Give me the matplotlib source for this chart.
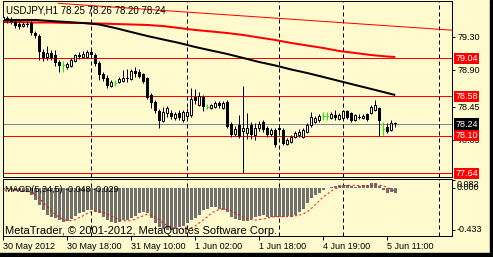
import matplotlib
matplotlib.use('Agg')
import matplotlib.pyplot as plt
from matplotlib.patches import Rectangle
from matplotlib.transforms import blended_transform_factory
import numpy as np

plt.rcParams['font.family'] = ['Liberation Sans', 'DejaVu Sans']

W, H = 493, 257
BG = '#FFFACD'

# ---------------- data (USDJPY H1) ----------------
opens = [79.51, 79.53, 79.52, 79.48, 79.46, 79.43, 79.46, 79.47, 79.35, 79.31,
         79.12, 79.06, 79.10, 79.08, 79.00, 78.96, 78.93, 78.95, 79.01, 79.08,
         79.06, 79.06, 79.12, 79.08, 78.98, 78.85, 78.80, 78.70, 78.74, 78.75,
         78.76, 78.80, 78.79, 78.89, 78.87, 78.85, 78.80, 78.59, 78.51, 78.40,
         78.28, 78.37, 78.37, 78.31, 78.37, 78.29, 78.34, 78.35, 78.57, 78.47,
         78.57, 78.45, 78.44, 78.45, 78.50, 78.44, 78.51, 78.24, 78.12, 78.23,
         78.16, 78.13, 78.23, 78.11, 78.19, 78.26, 78.19, 78.12, 78.17, 78.19,
         78.17, 78.00, 78.02, 78.08, 78.11, 78.08, 78.14, 78.23, 78.26, 78.29,
         78.34, 78.34, 78.31, 78.35, 78.30, 78.31, 78.40, 78.37, 78.29, 78.33,
         78.31, 78.36, 78.37, 78.41, 78.43, 78.18, 78.20, 78.17, 78.25]
highs = [79.58, 79.56, 79.54, 79.51, 79.49, 79.48, 79.49, 79.49, 79.37, 79.34,
         79.15, 79.19, 79.14, 79.14, 79.02, 79.01, 79.00, 79.04, 79.09, 79.12,
         79.13, 79.14, 79.15, 79.10, 79.01, 78.87, 78.84, 78.78, 78.78, 78.81,
         78.90, 78.91, 78.91, 78.93, 78.91, 78.86, 78.81, 78.62, 78.53, 78.42,
         78.45, 78.46, 78.41, 78.39, 78.41, 78.41, 78.44, 78.68, 78.67, 78.63,
         78.59, 78.48, 78.48, 78.52, 78.52, 78.52, 78.53, 78.26, 78.22, 78.35,
         78.70, 78.37, 78.26, 78.25, 78.28, 78.29, 78.22, 78.19, 78.19, 78.22,
         78.19, 78.07, 78.11, 78.16, 78.18, 78.19, 78.25, 78.39, 78.34, 78.36,
         78.39, 78.39, 78.39, 78.41, 78.37, 78.41, 78.41, 78.39, 78.36, 78.36,
         78.36, 78.37, 78.47, 78.53, 78.45, 78.26, 78.25, 78.29, 78.26]
lows = [79.48, 79.47, 79.46, 79.41, 79.40, 79.42, 79.42, 79.32, 79.29, 79.02,
        79.01, 79.02, 79.02, 78.95, 78.87, 78.87, 78.91, 78.93, 79.00, 79.03,
        79.04, 79.04, 79.06, 78.95, 78.78, 78.76, 78.68, 78.69, 78.70, 78.74,
        78.75, 78.75, 78.78, 78.81, 78.80, 78.74, 78.54, 78.44, 78.37, 78.19,
        78.26, 78.33, 78.30, 78.29, 78.29, 78.26, 78.31, 78.33, 78.48, 78.46,
        78.40, 78.42, 78.42, 78.44, 78.44, 78.42, 78.19, 78.08, 78.09, 78.07,
        77.64, 78.06, 78.06, 78.05, 78.16, 78.14, 78.08, 78.09, 77.96, 78.14,
        77.98, 77.98, 78.01, 78.07, 78.08, 78.07, 78.13, 78.20, 78.25, 78.26,
        78.29, 78.29, 78.30, 78.29, 78.29, 78.30, 78.30, 78.26, 78.28, 78.30,
        78.30, 78.28, 78.36, 78.40, 78.10, 78.11, 78.13, 78.16, 78.20]
closes = [79.54, 79.49, 79.48, 79.43, 79.42, 79.46, 79.45, 79.35, 79.31, 79.12,
          79.04, 79.10, 79.04, 78.98, 78.95, 78.96, 78.97, 79.02, 79.08, 79.06,
          79.09, 79.12, 79.08, 78.97, 78.84, 78.79, 78.70, 78.75, 78.74, 78.79,
          78.80, 78.79, 78.89, 78.85, 78.81, 78.75, 78.56, 78.50, 78.40, 78.28,
          78.39, 78.44, 78.33, 78.36, 78.31, 78.39, 78.39, 78.54, 78.52, 78.58,
          78.45, 78.45, 78.47, 78.50, 78.46, 78.50, 78.20, 78.11, 78.18, 78.08,
          78.19, 78.19, 78.11, 78.19, 78.24, 78.17, 78.11, 78.17, 77.98, 78.17,
          78.00, 78.05, 78.08, 78.13, 78.14, 78.17, 78.23, 78.33, 78.31, 78.34,
          78.34, 78.34, 78.36, 78.31, 78.35, 78.40, 78.31, 78.28, 78.35, 78.31,
          78.34, 78.29, 78.45, 78.47, 78.28, 78.18, 78.14, 78.25, 78.24]

ma_idx = [0, 4, 8, 12, 16, 20, 24, 28, 32, 36, 40, 44, 48, 52, 56, 60, 64, 68,
          72, 76, 80, 84, 88, 92, 96, 98]
ma_black = [79.507, 79.507, 79.507, 79.494, 79.482, 79.470, 79.452, 79.409,
            79.360, 79.312, 79.269, 79.227, 79.178, 79.135, 79.093, 79.044,
            78.995, 78.953, 78.904, 78.861, 78.813, 78.764, 78.715, 78.667,
            78.618, 78.593]
ma_red = [79.482, 79.482, 79.476, 79.476, 79.470, 79.470, 79.464, 79.458,
          79.452, 79.446, 79.433, 79.409, 79.385, 79.367, 79.348, 79.324,
          79.293, 79.263, 79.227, 79.196, 79.166, 79.129, 79.105, 79.080,
          79.062, 79.056]

trend_x = [13.7, 98.0]
trend_y = [79.71, 79.43]

hlines_red = [79.04, 78.58, 78.10, 77.64]
bid_price = 78.24
separators = [22, 46, 69, 85, 109]

macd = [-0.010, -0.010, -0.018, -0.025, -0.030, -0.035, -0.040, -0.070, -0.120, -0.170,
        -0.230, -0.277, -0.295, -0.310, -0.330, -0.347, -0.340, -0.320, -0.288, -0.260,
        -0.243, -0.225, -0.225, -0.243, -0.260, -0.295, -0.330, -0.347, -0.364, -0.350,
        -0.330, -0.330, -0.310, -0.288, -0.260, -0.243, -0.260, -0.310, -0.357, -0.405,
        -0.425, -0.433, -0.430, -0.420, -0.405, -0.390, -0.360, -0.330, -0.310, -0.277,
        -0.230, -0.210, -0.190, -0.196, -0.210, -0.225, -0.250, -0.295, -0.320, -0.330,
        -0.340, -0.335, -0.320, -0.300, -0.288, -0.280, -0.295, -0.295, -0.300, -0.295,
        -0.300, -0.288, -0.295, -0.277, -0.250, -0.210, -0.156, -0.104, -0.070, -0.045,
        -0.017, 0.000, 0.017, 0.028, 0.035, 0.038, 0.035, 0.028, 0.017, 0.024,
        0.031, 0.035, 0.052, 0.059, 0.024, -0.017, -0.045, -0.038, -0.048]
signal = [-0.018, -0.020, -0.022, -0.025, -0.028, -0.030, -0.035, -0.045, -0.070, -0.100,
          -0.150, -0.190, -0.235, -0.270, -0.300, -0.322, -0.335, -0.336, -0.325, -0.305,
          -0.285, -0.260, -0.243, -0.235, -0.240, -0.250, -0.270, -0.290, -0.310, -0.325,
          -0.335, -0.340, -0.335, -0.320, -0.300, -0.285, -0.270, -0.280, -0.300, -0.330,
          -0.360, -0.385, -0.400, -0.415, -0.425, -0.430, -0.425, -0.410, -0.390, -0.360,
          -0.330, -0.295, -0.260, -0.235, -0.220, -0.215, -0.220, -0.235, -0.255, -0.275,
          -0.295, -0.315, -0.325, -0.330, -0.325, -0.320, -0.310, -0.300, -0.295, -0.295,
          -0.295, -0.295, -0.290, -0.285, -0.280, -0.265, -0.245, -0.210, -0.170, -0.130,
          -0.090, -0.060, -0.030, -0.005, 0.012, 0.025, 0.030, 0.032, 0.030, 0.028,
          0.027, 0.027, 0.030, 0.035, 0.033, 0.025, 0.010, -0.010, -0.029]

date_idx = [0, 16, 32, 48, 64, 80, 96]
date_labels = ['30 May 2012', '30 May 18:00', '31 May 10:00', '1 Jun 02:00',
               '1 Jun 18:00', '4 Jun 19:00', '5 Jun 11:00']
price_ticks = [79.30, 78.90, 78.45, 78.05]
macd_ticks = [0.082, 0.000, -0.433]
header = 'USDJPY,H1 78.25 78.26 78.20 78.24'
macd_title = 'MACD(5,34,5) -0.048 -0.029'
copyright_txt = 'MetaTrader, \u00a9 2001-2012, MetaQuotes Software Corp.'

# ---------------- figure ----------------
PX = 0.72  # one pixel in points
fig = plt.figure(figsize=(W / 100, H / 100), dpi=100, facecolor=BG)


def rect(x0, y0, x1, y1):
    return [x0 / W, 1 - y1 / H, (x1 - x0) / W, (y1 - y0) / H]


ax = fig.add_axes(rect(2.5, 1, 452, 177), facecolor=BG)
axm = fig.add_axes(rect(2.5, 179, 452, 235.5), facecolor=BG, sharex=ax)

xl = (-0.2, 112.2)
ax.set_xlim(*xl)
ax.set_ylim(77.595, 79.738)
axm.set_ylim(-0.490, 0.0966)

for a in (ax, axm):
    for s in a.spines.values():
        s.set_color('black')
        s.set_linewidth(PX)

n = np.arange(len(opens))
O = np.array(opens); Hh = np.array(highs); L = np.array(lows); C = np.array(closes)

# background objects
for p in hlines_red:
    ax.axhline(p, color='red', lw=PX, zorder=1)
ax.axhline(bid_price, color='#778899', lw=PX, zorder=1)
for s in separators:
    ax.axvline(s, color='black', lw=PX, ls=(0, (4, 3)), zorder=1)
    axm.axvline(s, color='black', lw=PX, ls=(0, (4, 3)), zorder=1)

# moving averages and trend line
ax.plot(ma_idx, ma_red, color='red', lw=2 * PX, zorder=2, solid_capstyle='butt')
ax.plot(ma_idx, ma_black, color='black', lw=2 * PX, zorder=2, solid_capstyle='butt')
slope = (trend_y[1] - trend_y[0]) / (trend_x[1] - trend_x[0])
ax.plot([trend_x[0], xl[1]], [trend_y[0], trend_y[0] + slope * (xl[1] - trend_x[0])],
        color='red', lw=PX, zorder=2)

# candles
bull = C > O
bear = C < O
doji = C == O
ax.vlines(n[~doji], L[~doji], Hh[~doji], color='black', lw=PX, zorder=3)
ax.bar(n[bear], (O - C)[bear], bottom=C[bear], width=0.75, color='black',
       linewidth=0, zorder=4)
ax.bar(n[bull], (C - O)[bull], bottom=O[bull], width=0.5, facecolor='white',
       edgecolor='black', linewidth=PX, zorder=4)
ax.vlines(n[doji], L[doji], Hh[doji], color='#00FF00', lw=PX, zorder=3)
ax.hlines(C[doji], n[doji] - 0.35, n[doji] + 0.35, color='#00FF00', lw=PX, zorder=3)

# right axis of the main chart
ax.yaxis.tick_right()
ax.set_yticks(price_ticks)
ax.set_yticklabels([f'{v:.2f}' for v in price_ticks])
ax.tick_params(axis='y', length=2.2, width=PX, pad=1.5, labelsize=6.5, colors='black')
ax.tick_params(axis='x', bottom=False, labelbottom=False)

tr = blended_transform_factory(ax.transAxes, ax.transData)
for p in hlines_red:
    ax.text(1.0 + 3.2 / 449.5, p, f'{p:.2f}', transform=tr, color='white', fontsize=6.5,
            va='center', ha='left', zorder=10, clip_on=False,
            bbox=dict(boxstyle='square,pad=0.12', fc='red', ec='none'))
ax.text(1.0 + 3.2 / 449.5, bid_price, f'{bid_price:.2f}', transform=tr, color='white',
        fontsize=6.5, va='center', ha='left', zorder=10, clip_on=False,
        bbox=dict(boxstyle='square,pad=0.12', fc='black', ec='none'))

# MACD
axm.bar(n, macd, width=0.68, color='#707070', linewidth=0, zorder=2)
axm.plot(n, signal, color='red', lw=PX, ls=(0, (2, 2.5)), zorder=3)
axm.yaxis.tick_right()
axm.set_yticks(macd_ticks)
axm.set_yticklabels([])
axm.tick_params(axis='y', length=2.2, width=PX, colors='black')
trm = blended_transform_factory(axm.transAxes, fig.transFigure)
for v, ypx in zip(macd_ticks, [184.3, 187.8, 229.7]):
    axm.text(1.0 + 5 / 449.5, 1 - ypx / H, f'{v:.3f}', transform=trm, fontsize=6.5,
             va='center', ha='left', clip_on=False)

axm.set_xticks(date_idx)
axm.set_xticklabels(date_labels)
for lbl in axm.get_xticklabels():
    lbl.set_ha('left')
axm.tick_params(axis='x', length=3, width=PX, pad=2.0, labelsize=6.5, colors='black')

# texts
fig.text(6 / W, 1 - 10.5 / H, header, fontsize=7, va='center', ha='left')
fig.text(5 / W, 1 - 190 / H, macd_title, fontsize=6.5, va='center', ha='left')
fig.text(5 / W, 1 - 231.5 / H, copyright_txt, fontsize=8, va='center', ha='left')

# frame bands
fig.add_artist(Rectangle((0, 0), 1, 4 / H, transform=fig.transFigure,
                         color='black', zorder=20))
fig.add_artist(Rectangle((490 / W, 0), 3 / W, 1, transform=fig.transFigure,
                         color='black', zorder=20))

fig.savefig('out.png', dpi=100, facecolor=BG)
